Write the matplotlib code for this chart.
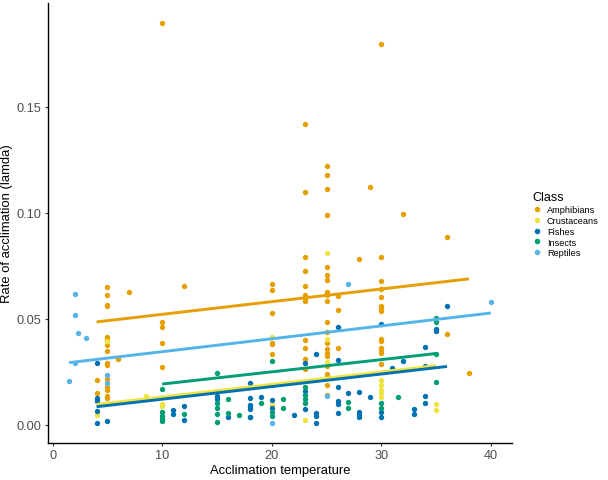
import numpy as np
import matplotlib
matplotlib.use('Agg')
import matplotlib.pyplot as plt
from matplotlib.lines import Line2D

plt.rcParams['font.family'] = ['Liberation Sans', 'DejaVu Sans']

# data (temperature, rate) per class
classes = ['Amphibians', 'Crustaceans', 'Fishes', 'Insects', 'Reptiles']
colors = {'Amphibians': '#E69F00', 'Crustaceans': '#F0E442', 'Fishes': '#0072B2',
          'Insects': '#009E73', 'Reptiles': '#56B4E9'}

amph_temp = [4, 4] + [5] * 15 + [6, 7] + [10] * 5 + [12] + [20] * 6 + [23] * 12 + \
            [25] * 21 + [26] * 3 + [28, 29] + [30] * 14 + [32, 36, 36, 38]
amph_rate = [0.0212, 0.0151,
             0.065, 0.0612, 0.0567, 0.0559, 0.0414, 0.0399, 0.0379, 0.0349, 0.0292, 0.0282,
             0.0218, 0.0179, 0.0167, 0.0139, 0.0126,
             0.031, 0.0625,
             0.1896, 0.0485, 0.046, 0.0388, 0.0274,
             0.0654,
             0.0667, 0.0637, 0.0527, 0.0388, 0.0382, 0.0334,
             0.1419, 0.1101, 0.0791, 0.0728, 0.0656, 0.0611, 0.06, 0.0583, 0.04, 0.0362, 0.0312, 0.0265,
             0.1223, 0.1181, 0.1114, 0.0988, 0.0743, 0.0709, 0.0686, 0.0628, 0.0615, 0.0583, 0.0486,
             0.0439, 0.0385, 0.0357, 0.0341, 0.0323, 0.0276, 0.0242, 0.0229, 0.019, 0.0143,
             0.0608, 0.054, 0.0362,
             0.0783, 0.1121,
             0.1798, 0.0794, 0.0681, 0.0643, 0.0605, 0.0563, 0.0551, 0.0536, 0.0405, 0.0394, 0.0363,
             0.035, 0.0338, 0.0287,
             0.0995, 0.0888, 0.0427, 0.0246]

crus_temp = [4, 5, 8.5, 10, 10, 20, 20, 23, 25, 25, 25, 30, 30, 30, 30, 30, 35, 35]
crus_rate = [0.0047, 0.0394, 0.0139, 0.0097, 0.0089, 0.0416, 0.0095, 0.0022, 0.081, 0.0407, 0.0296,
             0.021, 0.0188, 0.0164, 0.0149, 0.0133, 0.0101, 0.0072]

fish_temp = [4] * 5 + [5, 11, 11, 12, 12, 15, 15, 16] + [18] * 7 + [19, 20, 20, 22] + [23] * 3 + \
            [24] * 4 + [26] * 6 + [27] + [28] * 4 + [29] + [30] * 3 + [31, 32, 33, 33] + [34] * 4 + \
            [35, 35, 36]
fish_rate = [0.0293, 0.0126, 0.0111, 0.0064, 0.0011,
             0.0019, 0.007, 0.005, 0.0089, 0.0023, 0.0136, 0.0123, 0.0039,
             0.0196, 0.0125, 0.0093, 0.0086, 0.0077, 0.0039, 0.0037,
             0.0131, 0.0119, 0.0082, 0.0048,
             0.029, 0.0158, 0.0073,
             0.0334, 0.0056, 0.0042, 0.0011,
             0.0461, 0.0308, 0.0178, 0.0112, 0.01, 0.0058,
             0.015,
             0.0157, 0.0061, 0.0049, 0.0037,
             0.0133,
             0.0475, 0.0061, 0.0037,
             0.0271, 0.0304, 0.0073, 0.0053,
             0.0366, 0.0279, 0.0135, 0.0105,
             0.0453, 0.0444, 0.0561]

ins_temp = [10] * 5 + [12] + [15] * 5 + [16, 16, 17, 19] + [20] * 3 + [21, 21] + [23] * 4 + \
           [27, 27, 30, 30, 31.5] + [35] * 4
ins_rate = [0.0171, 0.0063, 0.004, 0.003, 0.002,
            0.005,
            0.0246, 0.0105, 0.0081, 0.0053, 0.0016,
            0.0122, 0.0058, 0.0046, 0.0104,
            0.0302, 0.0063, 0.0041,
            0.0122, 0.0081,
            0.0178, 0.014, 0.0122, 0.0105,
            0.0108, 0.0078, 0.0105, 0.0079, 0.0131,
            0.0505, 0.0486, 0.0336, 0.0204]

rept_temp = [1.5, 2, 2, 2, 2.3, 3, 5, 5, 20, 25, 27, 40]
rept_rate = [0.0206, 0.0617, 0.052, 0.0292, 0.0435, 0.0408, 0.0237, 0.0196, 0.0008, 0.0135, 0.0664, 0.058]

# linear trend per class, ends
trend_x0 = [4, 4, 4, 10, 1.5]
trend_x1 = [38, 35, 36, 35, 40]
trend_y0 = [0.0486, 0.0097, 0.0086, 0.0193, 0.0294]
trend_y1 = [0.0689, 0.0280, 0.0276, 0.0337, 0.0528]

points = {'Amphibians': (amph_temp, amph_rate), 'Crustaceans': (crus_temp, crus_rate),
          'Fishes': (fish_temp, fish_rate), 'Insects': (ins_temp, ins_rate),
          'Reptiles': (rept_temp, rept_rate)}

fig = plt.figure(figsize=(6.08, 4.81), dpi=100)
ax = fig.add_axes([48 / 608, 37 / 481, 464 / 608, 440 / 481])

for c in classes:
    t, r = points[c]
    ax.scatter(t, r, s=15, color=colors[c], linewidths=0, zorder=2)

for i, c in enumerate(classes):
    ax.plot([trend_x0[i], trend_x1[i]], [trend_y0[i], trend_y1[i]], color=colors[c], lw=2.1,
            solid_capstyle='butt', zorder=3)

ax.set_xlim(-0.43, 41.93)
ax.set_ylim(-0.0085, 0.199)
ax.set_xticks([0, 10, 20, 30, 40])
ax.set_yticks([0.0, 0.05, 0.10, 0.15])
ax.set_yticklabels(['0.00', '0.05', '0.10', '0.15'])
for s in ['top', 'right']:
    ax.spines[s].set_visible(False)
for s in ['left', 'bottom']:
    ax.spines[s].set_linewidth(1.0)
    ax.spines[s].set_color('black')
ax.tick_params(length=2.5, width=0.8, color='#333333', labelcolor='#4D4D4D', labelsize=9.2, pad=2)
ax.set_xlabel('Acclimation temperature', fontsize=9.4, labelpad=2)
ax.set_ylabel('Rate of acclimation (lamda)', fontsize=9.4, labelpad=3)

handles = [Line2D([], [], ls='none', marker='o', ms=4, mew=0, color=colors[c]) for c in classes]
leg = fig.legend(handles, classes, title='Class', loc='upper left', bbox_to_anchor=(524 / 608, 1 - 184 / 481),
                 frameon=False, fontsize=6.6, title_fontsize=9, handlelength=1.0, handletextpad=0.6,
                 labelspacing=0.2, alignment='left')

fig.savefig('out.png', dpi=100)
